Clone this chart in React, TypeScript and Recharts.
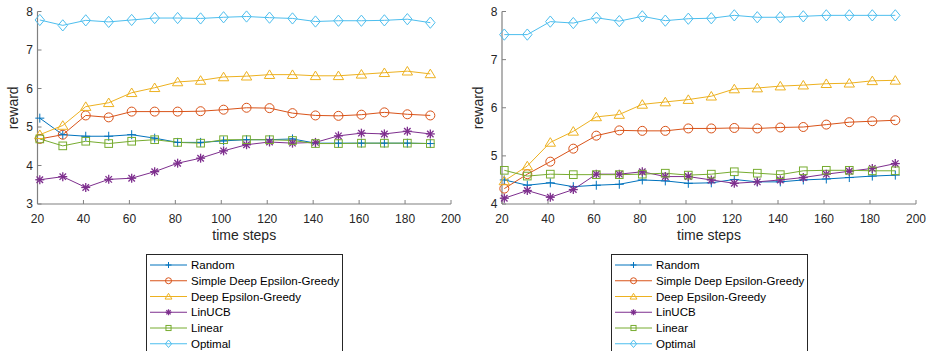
import { LineChart, Line, XAxis, YAxis } from 'recharts'

const steps = [21, 31, 41, 51, 61, 71, 81, 91, 101, 111, 121, 131, 141, 151, 161, 171, 181, 191]
const xTicks = [20, 40, 60, 80, 100, 120, 140, 160, 180, 200]

// left panel
const leftRandom = [5.23, 4.8, 4.76, 4.76, 4.8, 4.71, 4.6, 4.6, 4.64, 4.67, 4.67, 4.69, 4.58, 4.58, 4.58, 4.58, 4.58, 4.57]
const leftSimple = [4.69, 4.8, 5.3, 5.25, 5.4, 5.4, 5.4, 5.41, 5.45, 5.5, 5.49, 5.36, 5.3, 5.29, 5.32, 5.38, 5.33, 5.3]
const leftDeep = [4.8, 5.04, 5.53, 5.63, 5.89, 6.02, 6.17, 6.21, 6.3, 6.32, 6.36, 6.36, 6.33, 6.33, 6.37, 6.41, 6.45, 6.38]
const leftLinUCB = [3.63, 3.71, 3.43, 3.64, 3.67, 3.84, 4.06, 4.19, 4.38, 4.54, 4.61, 4.58, 4.6, 4.77, 4.84, 4.82, 4.89, 4.82]
const leftLinear = [4.69, 4.51, 4.63, 4.57, 4.63, 4.67, 4.6, 4.58, 4.67, 4.67, 4.67, 4.65, 4.57, 4.57, 4.58, 4.58, 4.58, 4.57]
const leftOptimal = [7.78, 7.64, 7.77, 7.73, 7.78, 7.83, 7.83, 7.82, 7.85, 7.87, 7.84, 7.82, 7.74, 7.76, 7.76, 7.77, 7.8, 7.71]
const leftYTicks = [3, 4, 5, 6, 7, 8]

// right panel
const rightRandom = [4.5, 4.39, 4.44, 4.36, 4.39, 4.41, 4.5, 4.48, 4.43, 4.44, 4.51, 4.46, 4.46, 4.5, 4.52, 4.55, 4.58, 4.6]
const rightSimple = [4.32, 4.62, 4.88, 5.15, 5.42, 5.53, 5.52, 5.52, 5.57, 5.57, 5.58, 5.57, 5.59, 5.6, 5.65, 5.7, 5.72, 5.74]
const rightDeep = [4.48, 4.79, 5.28, 5.51, 5.81, 5.86, 6.07, 6.12, 6.17, 6.24, 6.39, 6.41, 6.45, 6.47, 6.5, 6.51, 6.56, 6.57]
const rightLinUCB = [4.12, 4.28, 4.14, 4.3, 4.62, 4.62, 4.67, 4.57, 4.57, 4.5, 4.43, 4.46, 4.5, 4.55, 4.62, 4.68, 4.74, 4.84]
const rightLinear = [4.7, 4.58, 4.62, 4.61, 4.61, 4.61, 4.62, 4.64, 4.6, 4.62, 4.67, 4.64, 4.61, 4.69, 4.7, 4.7, 4.69, 4.69]
const rightOptimal = [7.52, 7.52, 7.79, 7.76, 7.87, 7.8, 7.9, 7.81, 7.85, 7.86, 7.92, 7.88, 7.88, 7.9, 7.92, 7.92, 7.92, 7.92]
const rightYTicks = [4, 5, 6, 7, 8]

type Shape = 'plus' | 'circle' | 'triangle' | 'star' | 'square' | 'diamond'

const SERIES: { key: string; name: string; color: string; shape: Shape }[] = [
  { key: 'random', name: 'Random', color: '#0072BD', shape: 'plus' },
  { key: 'simple', name: 'Simple Deep Epsilon-Greedy', color: '#D95319', shape: 'circle' },
  { key: 'deep', name: 'Deep Epsilon-Greedy', color: '#EDB120', shape: 'triangle' },
  { key: 'linucb', name: 'LinUCB', color: '#7E2F8E', shape: 'star' },
  { key: 'linear', name: 'Linear', color: '#77AC30', shape: 'square' },
  { key: 'optimal', name: 'Optimal', color: '#4DBEEE', shape: 'diamond' },
]

const FONT = '"Liberation Sans", Arial, Helvetica, sans-serif'
const AXIS_COLOR = '#808080'
const TEXT_COLOR = '#262626'

function buildRows(cols: number[][]) {
  return steps.map((t, i) => {
    const row: Record<string, number> = { t }
    SERIES.forEach((s, j) => {
      row[s.key] = cols[j][i]
    })
    return row
  })
}

const leftData = buildRows([leftRandom, leftSimple, leftDeep, leftLinUCB, leftLinear, leftOptimal])
const rightData = buildRows([rightRandom, rightSimple, rightDeep, rightLinUCB, rightLinear, rightOptimal])

function Marker({ shape, cx, cy, s, color }: { shape: Shape; cx: number; cy: number; s: number; color: string }) {
  const common = { stroke: color, fill: 'none', strokeWidth: 1 }
  switch (shape) {
    case 'plus':
      return (
        <g {...common}>
          <line x1={cx - s} x2={cx + s} y1={cy} y2={cy} />
          <line x1={cx} x2={cx} y1={cy - s} y2={cy + s} />
        </g>
      )
    case 'circle':
      return <circle cx={cx} cy={cy} r={s} {...common} />
    case 'triangle':
      return (
        <polygon
          points={`${cx},${cy - s * 1.05} ${cx - s * 1.15},${cy + s * 0.85} ${cx + s * 1.15},${cy + s * 0.85}`}
          {...common}
        />
      )
    case 'star': {
      const d = s * 0.72
      return (
        <g {...common} strokeWidth={1.3}>
          <line x1={cx - s} x2={cx + s} y1={cy} y2={cy} />
          <line x1={cx} x2={cx} y1={cy - s} y2={cy + s} />
          <line x1={cx - d} x2={cx + d} y1={cy - d} y2={cy + d} />
          <line x1={cx - d} x2={cx + d} y1={cy + d} y2={cy - d} />
        </g>
      )
    }
    case 'square':
      return <rect x={cx - s * 0.85} y={cy - s * 0.85} width={s * 1.7} height={s * 1.7} {...common} />
    case 'diamond':
      return (
        <polygon
          points={`${cx},${cy - s * 1.25} ${cx + s * 1.05},${cy} ${cx},${cy + s * 1.25} ${cx - s * 1.05},${cy}`}
          {...common}
        />
      )
  }
}

function dotRenderer(shape: Shape, color: string) {
  // eslint-disable-next-line @typescript-eslint/no-explicit-any
  return (props: any) => {
    const { cx, cy, index } = props
    if (cx == null || cy == null) return <g key={`d-${index}`} />
    return (
      <g key={`d-${index}`}>
        <Marker shape={shape} cx={cx} cy={cy} s={4.5} color={color} />
      </g>
    )
  }
}

function LegendBox({ left }: { left: number }) {
  return (
    <svg
      width={198}
      height={97}
      style={{ position: 'absolute', left, top: 254, fontFamily: FONT }}
    >
      <rect x={0.5} y={0.5} width={196} height={120} fill="#fff" stroke={TEXT_COLOR} strokeWidth={1} />
      {SERIES.map((s, i) => {
        const y = 11 + i * 15.75
        return (
          <g key={s.key}>
            <line x1={4} x2={41} y1={y} y2={y} stroke={s.color} strokeWidth={1} />
            <Marker shape={s.shape} cx={22.5} cy={y} s={3} color={s.color} />
            <text x={45} y={y + 4} fontSize={11.5} fill="#000">
              {s.name}
            </text>
          </g>
        )
      })}
    </svg>
  )
}

function Panel({
  data,
  yDomain,
  yTicks,
  left,
  width,
  marginLeft,
  marginRight,
}: {
  data: Record<string, number>[]
  yDomain: [number, number]
  yTicks: number[]
  left: number
  width: number
  marginLeft: number
  marginRight: number
}) {
  return (
    <div style={{ position: 'absolute', left, top: 0 }}>
      <LineChart
        width={width}
        height={250}
        data={data}
        margin={{ top: 11.5, right: marginRight, bottom: 16, left: marginLeft }}
        style={{ fontFamily: FONT }}
      >
        <XAxis
          type="number"
          dataKey="t"
          domain={[20, 200]}
          ticks={xTicks}
          interval={0}
          height={30}
          tickSize={-4}
          tickMargin={14}
          axisLine={{ stroke: AXIS_COLOR, strokeWidth: 1.2 }}
          tickLine={{ stroke: AXIS_COLOR }}
          tick={{ fill: TEXT_COLOR, fontSize: 12 }}
          label={{ value: 'time steps', position: 'bottom', offset: -4, fill: TEXT_COLOR, fontSize: 14 }}
        />
        <YAxis
          type="number"
          domain={yDomain}
          ticks={yTicks}
          interval={0}
          width={30}
          tickSize={-4}
          tickMargin={8.5}
          axisLine={{ stroke: AXIS_COLOR, strokeWidth: 1.2 }}
          tickLine={{ stroke: AXIS_COLOR }}
          tick={{ fill: TEXT_COLOR, fontSize: 12 }}
          label={{
            value: 'reward',
            angle: -90,
            position: 'insideLeft',
            offset: 6,
            fill: TEXT_COLOR,
            fontSize: 14,
            style: { textAnchor: 'middle' },
          }}
        />
        {SERIES.map((s) => (
          <Line
            key={s.key}
            type="linear"
            dataKey={s.key}
            name={s.name}
            stroke={s.color}
            strokeWidth={1}
            dot={dotRenderer(s.shape, s.color)}
            activeDot={false}
            isAnimationActive={false}
          />
        ))}
      </LineChart>
    </div>
  )
}

export default function App() {
  return (
    <div
      style={{
        position: 'absolute',
        left: 0,
        top: 0,
        width: 927,
        height: 351,
        background: '#fff',
        overflow: 'hidden',
        fontFamily: FONT,
      }}
    >
      <Panel data={leftData} yDomain={[3, 8]} yTicks={leftYTicks} left={0} width={470} marginLeft={7.5} marginRight={19} />
      <Panel data={rightData} yDomain={[4, 8]} yTicks={rightYTicks} left={465} width={462} marginLeft={7} marginRight={11} />
      <LegendBox left={146} />
      <LegendBox left={611} />
    </div>
  )
}
